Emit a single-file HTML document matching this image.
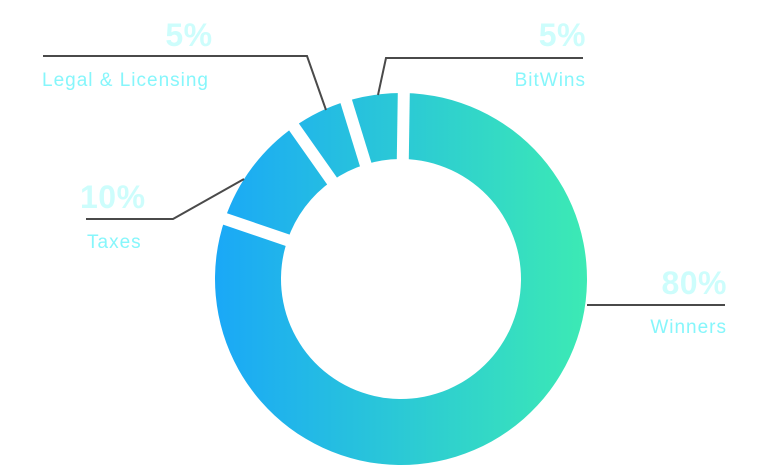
<!DOCTYPE html>
<html><head><meta charset="utf-8"><style>
html,body{margin:0;padding:0;background:#fff;}
svg{display:block;}
.pct{font-family:"Liberation Sans",sans-serif;font-weight:bold;font-size:32px;fill:#cdfdfc;letter-spacing:0.5px;}
.lbl{font-family:"Liberation Sans",sans-serif;font-size:19px;fill:#86f6fb;letter-spacing:1px;}
</style></head><body>
<svg width="768" height="474" viewBox="0 0 768 474">
<defs><linearGradient id="g" x1="215" y1="0" x2="587" y2="0" gradientUnits="userSpaceOnUse">
<stop offset="0" stop-color="#1aa8f7"/><stop offset="1" stop-color="#3ceab4"/></linearGradient></defs>
<g id="slices"></g>
<g id="gaps"></g>
<g stroke="#4a4a4a" stroke-width="2" fill="none">
<polyline points="43,56 307,56 326,110"/>
<polyline points="583,58 386,58 378,95"/>
<polyline points="86,219 173,219 244,179"/>
<polyline points="587,305 725,305"/>
</g>
<text class="pct" x="189" y="46" text-anchor="middle">5%</text>
<text class="lbl" x="42" y="86">Legal &amp; Licensing</text>
<text class="pct" x="586" y="46" text-anchor="end">5%</text>
<text class="lbl" x="586" y="86" text-anchor="end">BitWins</text>
<text class="pct" x="80" y="208">10%</text>
<text class="lbl" x="87" y="248">Taxes</text>
<text class="pct" x="727" y="294" text-anchor="end">80%</text>
<text class="lbl" x="727" y="333" text-anchor="end">Winners</text>
</svg>
<script>
const categories=["Winners","Taxes","Legal & Licensing","BitWins"];
const values=[80,10,5,5];
const cx=401,cy=279,R=186,r=120;
const NS="http://www.w3.org/2000/svg";
const rot=0.015;
function pt(a,rad){return [cx+rad*Math.sin(a+rot),cy-rad*Math.cos(a+rot)];}
const total=values.reduce((a,b)=>a+b,0);
let a0=0;
const sg=document.getElementById('slices'),gg=document.getElementById('gaps');
values.forEach((v,i)=>{
  const a1=a0+v/total*2*Math.PI;
  const p1=pt(a0,R),p2=pt(a1,R),p3=pt(a1,r),p4=pt(a0,r);
  const large=(a1-a0)>Math.PI?1:0;
  const p=document.createElementNS(NS,'path');
  p.setAttribute('d',`M${p1} A${R},${R} 0 ${large} 1 ${p2} L${p3} A${r},${r} 0 ${large} 0 ${p4}Z`);
  p.setAttribute('fill','url(#g)');
  
  
  sg.appendChild(p);
  const q1=pt(a0,r-5),q2=pt(a0,R+5);
  const l=document.createElementNS(NS,'line');
  l.setAttribute('x1',q1[0]);l.setAttribute('y1',q1[1]);l.setAttribute('x2',q2[0]);l.setAttribute('y2',q2[1]);
  l.setAttribute('stroke','#fff');l.setAttribute('stroke-width','12');
  
  
  gg.appendChild(l);
  a0=a1;
});
</script>
</body></html>
